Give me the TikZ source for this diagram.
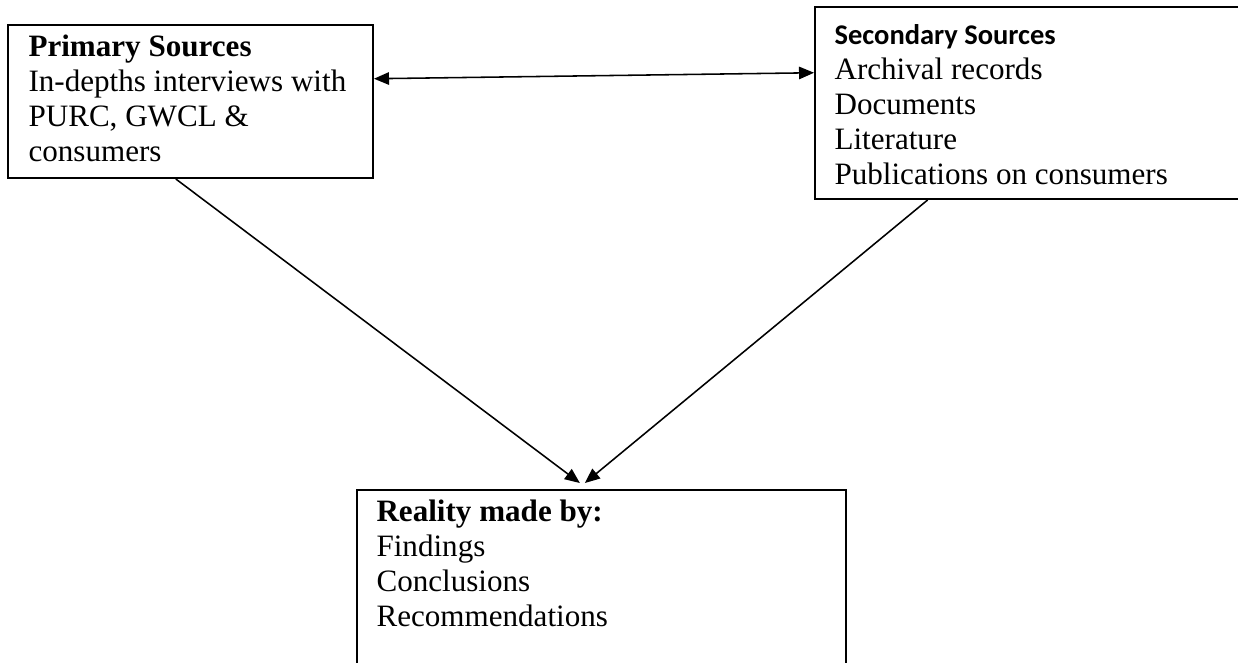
\documentclass[tikz,border=0pt]{standalone}
\usepackage{fontspec}
\setmainfont{Liberation Serif}
\newfontfamily\calibri{Carlito}
\usetikzlibrary{arrows.meta, calc, fit}

\begin{document}
\begin{tikzpicture}[
    x=0.386pt, y=-0.386pt,
    >={Triangle[length=5.8pt, width=4.8pt]},
    box/.style={rectangle, draw, line width=0.75pt, inner sep=0pt},
    txt/.style={anchor=base west, inner sep=0pt, font=\fontsize{12}{13.6}\selectfont},
    line/.style={draw, line width=0.6pt, ->}
]
    \useasboundingbox (0,0) rectangle (1238,662);
    \clip (0,0) rectangle (1238,662);

    \node [box, fit={(8,25) (373,178)}] (primary) {};
    \node [box, fit={(815,7) (1240,199)}] (secondary) {};
    \node [box, fit={(357,490) (846,690)}] (reality) {};

    \node [txt] (primarytext) at ($(primary.north west)+(21,32)$)
        {\parbox[t]{160pt}{\raggedright\textbf{Primary Sources}\\In-depths interviews with\\PURC, GWCL \&\\consumers}};
    \node [txt] (secondarytext) at ($(secondary.north west)+(20,38)$)
        {\parbox[t]{160pt}{\raggedright{\calibri\bfseries\fontsize{11}{13.6}\selectfont Secondary Sources}\\Archival records\\Documents\\Literature\\Publications on consumers}};
    \node [txt] (realitytext) at ($(reality.north west)+(20,32)$)
        {\parbox[t]{160pt}{\raggedright\textbf{Reality made by:}\\Findings\\Conclusions\\Recommendations}};

    \path [line, <->] ($(primary.north east)!0.353!(primary.south east)$) -- ($(secondary.north west)!0.344!(secondary.south west)$);
    \path [line] ($(primary.south west)!0.46!(primary.south east)$) -- ($(reality.north west)!0.456!(reality.north east)+(0,-6)$);
    \path [line] ($(secondary.south west)!0.266!(secondary.south east)$) -- ($(reality.north west)!0.466!(reality.north east)+(0,-6)$);
\end{tikzpicture}
\end{document}
